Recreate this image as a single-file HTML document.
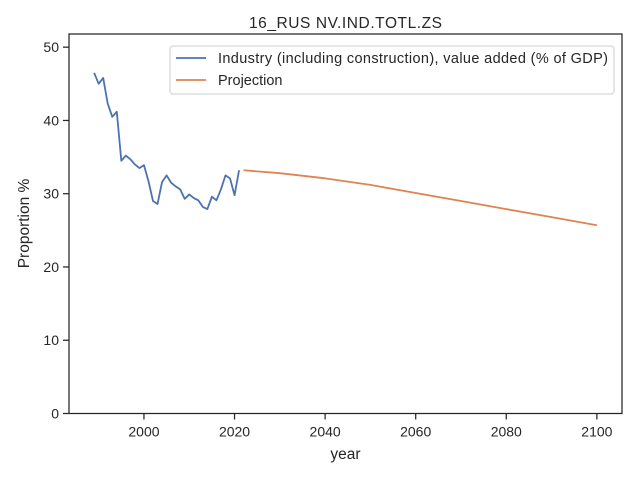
<!DOCTYPE html>
<html><head><meta charset="utf-8"><style>
body{margin:0;background:#fff;}
svg{display:block;font-family:"Liberation Sans",sans-serif;}
</style></head><body>
<svg id="chart" width="640" height="480" xmlns="http://www.w3.org/2000/svg">
<rect width="640" height="480" fill="#fff"/>
<text x="345.5" y="28" text-anchor="middle" font-size="15.5" textLength="193" fill="#262626">16_RUS NV.IND.TOTL.ZS</text>
<g id="ticks"></g>
<g id="series"></g>
<rect x="69" y="34" width="553" height="379.5" fill="none" stroke="#262626" stroke-width="1.25"/>
<text x="345.5" y="459" text-anchor="middle" font-size="15.5" fill="#262626">year</text>
<text transform="translate(29,223.5) rotate(-90)" text-anchor="middle" font-size="15.5" fill="#262626">Proportion %</text>
<g>
<rect x="170" y="46" width="444" height="48" rx="3" fill="#fff" stroke="#ccc" stroke-width="1"/>
<line x1="176" y1="58" x2="206" y2="58" stroke="#4c72b0" stroke-width="1.8"/>
<text x="218" y="63" font-size="14.5" textLength="390" fill="#262626">Industry (including construction), value added (% of GDP)</text>
<line x1="176" y1="80" x2="206" y2="80" stroke="#dd8452" stroke-width="1.8"/>
<text x="218" y="85" font-size="14.5" fill="#262626">Projection</text>
</g>
</svg>
<script>
const histYears=[1989,1990,1991,1992,1993,1994,1995,1996,1997,1998,1999,2000,2001,2002,2003,2004,2005,2006,2007,2008,2009,2010,2011,2012,2013,2014,2015,2016,2017,2018,2019,2020,2021];
const histValues=[46.5,45.0,45.8,42.3,40.5,41.2,34.5,35.2,34.7,34.0,33.5,33.9,31.7,29.0,28.6,31.6,32.5,31.5,31.0,30.6,29.3,29.9,29.4,29.1,28.2,27.9,29.6,29.1,30.6,32.5,32.1,29.8,33.2];
const projYears=[2022,2030,2040,2050,2060,2070,2080,2090,2100];
const projValues=[33.2,32.8,32.1,31.2,30.1,29.0,27.9,26.8,25.7];
const xTicks=[2000,2020,2040,2060,2080,2100];
const yTicks=[0,10,20,30,40,50];
const NS="http://www.w3.org/2000/svg";
const X0=69,X1=622,Y0=413.5,Y1=34,xmin=1983.45,xmax=2105.55,ymin=0,ymax=51.8;
function sx(v){return X0+(v-xmin)/(xmax-xmin)*(X1-X0);}
function sy(v){return Y0-(v-ymin)/(ymax-ymin)*(Y0-Y1);}
const tg=document.getElementById('ticks');
xTicks.forEach(t=>{
 const l=document.createElementNS(NS,'line');
 l.setAttribute('x1',sx(t));l.setAttribute('x2',sx(t));l.setAttribute('y1',Y0);l.setAttribute('y2',Y0+6);
 l.setAttribute('stroke','#262626');l.setAttribute('stroke-width','1.25');
 
 
 tg.appendChild(l);
 const tx=document.createElementNS(NS,'text');
 tx.setAttribute('x',sx(t));tx.setAttribute('y',Y0+23);tx.setAttribute('text-anchor','middle');
 tx.setAttribute('font-size','14');tx.setAttribute('fill','#262626');tx.textContent=t;
 
 
 tg.appendChild(tx);
});
yTicks.forEach(t=>{
 const l=document.createElementNS(NS,'line');
 l.setAttribute('x1',X0-6);l.setAttribute('x2',X0);l.setAttribute('y1',sy(t));l.setAttribute('y2',sy(t));
 l.setAttribute('stroke','#262626');l.setAttribute('stroke-width','1.25');
 
 
 tg.appendChild(l);
 const tx=document.createElementNS(NS,'text');
 tx.setAttribute('x',X0-10);tx.setAttribute('y',sy(t)+5);tx.setAttribute('text-anchor','end');
 tx.setAttribute('font-size','14');tx.setAttribute('fill','#262626');tx.textContent=t;
 
 
 tg.appendChild(tx);
});
const sg=document.getElementById('series');
function line(xs,ys,color,name){
 const p=document.createElementNS(NS,'polyline');
 p.setAttribute('points',xs.map((x,i)=>sx(x).toFixed(2)+','+sy(ys[i]).toFixed(2)).join(' '));
 p.setAttribute('fill','none');p.setAttribute('stroke',color);p.setAttribute('stroke-width','1.8');
 p.setAttribute('stroke-linejoin','round');
 
 
 sg.appendChild(p);
}
line(histYears,histValues,'#4c72b0','industry-line');
line(projYears,projValues,'#dd8452','projection-line');
</script>
</body></html>
